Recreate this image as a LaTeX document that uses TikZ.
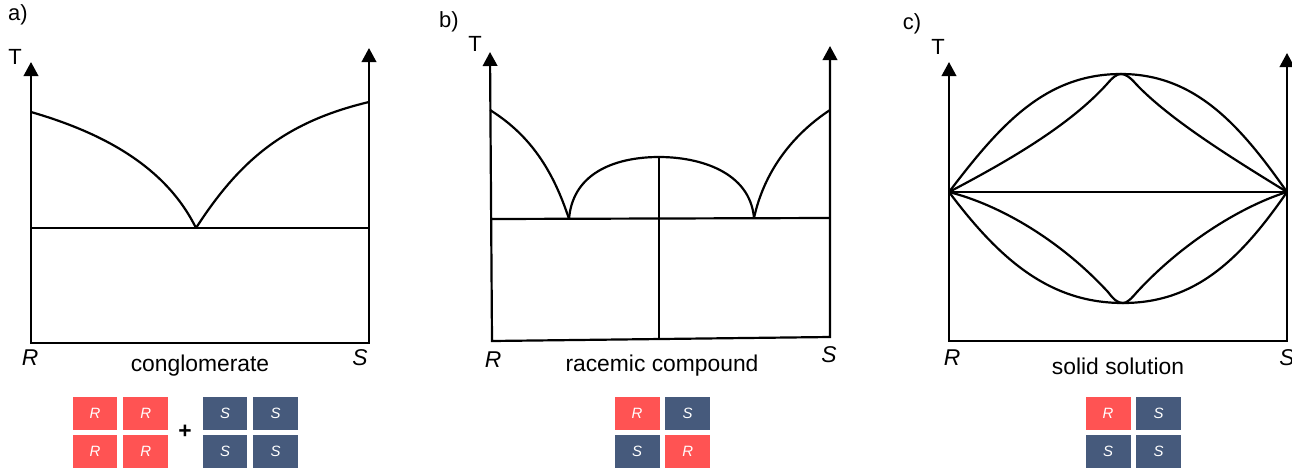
\documentclass[tikz,border=0pt]{standalone}
\usepackage{fontspec}
\setmainfont{Liberation Sans}
\usetikzlibrary{arrows.meta,positioning}
\definecolor{enred}{HTML}{FF5353}
\definecolor{enblue}{HTML}{465A7C}
\tikzset{
  pdframe/.style={
    line width=1.25pt, draw=black, line join=miter,
    {Triangle[width=0.29cm,length=0.28cm]}-{Triangle[width=0.29cm,length=0.28cm]}
  },
  pdline/.style={line width=1.25pt, draw=black},
  enbox/.style={
    rectangle, minimum width=0.9cm, minimum height=0.66cm, inner sep=0pt,
    text=white, font=\fontsize{8.5}{9}\selectfont\itshape
  },
  rbox/.style={enbox, fill=enred},
  sbox/.style={enbox, fill=enblue},
  pdtag/.style={font=\fontsize{12.5}{14}\selectfont, inner sep=0pt},
  pdaxis/.style={font=\fontsize{13}{14}\selectfont\itshape, inner sep=0pt},
  pdname/.style={font=\fontsize{13}{14}\selectfont, inner sep=0pt},
}

\begin{document}
\begin{tikzpicture}[x=0.02cm, y=-0.02cm, node distance=0.1cm and 0.1cm]
  \useasboundingbox (0,0) rectangle (1292,467);

  % a) conglomerate
  \node (atag) [pdtag] at (18,15) {a)};
  \node (aT) [pdtag] at (15,57) {T};
  \coordinate (aTL) at (31,62);  \coordinate (aBL) at (31,343);
  \coordinate (aBR) at (369,343); \coordinate (aTR) at (369,48);
  \coordinate (aL) at (31,112);  \coordinate (aR) at (369,102);
  \coordinate (aE) at (196,228);
  \draw[pdframe] (aTL) -- (aBL) -- (aBR) -- (aTR);
  \draw[pdline] (31,228) -- (369,228);
  \draw[pdline] (aL) .. controls (100,132) and (165,165) .. (aE);
  \draw[pdline] (aE) .. controls (240,160) and (285,122) .. (aR);
  \node (aRl) [pdaxis] at (30,358) {R};
  \node (aSl) [pdaxis] at (360,358) {S};
  \node (aname) [pdname] at (200,366) {conglomerate};
  \node (ra1) [rbox] at (95,413) {R};
  \node (ra2) [rbox, right=of ra1] {R};
  \node (ra3) [rbox, below=of ra1] {R};
  \node (ra4) [rbox, below=of ra2] {R};
  \node (plus) [font=\fontsize{13}{14}\selectfont\bfseries] at (185,432) {+};
  \node (sa1) [sbox] at (225,413) {S};
  \node (sa2) [sbox, right=of sa1] {S};
  \node (sa3) [sbox, below=of sa1] {S};
  \node (sa4) [sbox, below=of sa2] {S};

  % b) racemic compound
  \node (btag) [pdtag] at (449,22) {b)};
  \node (bT) [pdtag] at (475,44) {T};
  \coordinate (bTL) at (490,52);  \coordinate (bBL) at (492,341);
  \coordinate (bBR) at (830,337); \coordinate (bTR) at (830,46);
  \coordinate (bL) at (490,110);  \coordinate (bR) at (830,110);
  \coordinate (bE1) at (569,219); \coordinate (bE2) at (754,218);
  \coordinate (bM) at (659,157);
  \draw[pdframe] (bTL) -- (bBL) -- (bBR) -- (bTR);
  \draw[pdline] (491,219) -- (830,218);
  \draw[pdline] (bM) -- (659,339);
  \draw[pdline] (bL) .. controls (530,135) and (553,170) .. (bE1);
  \draw[pdline] (bE1) .. controls (573,170) and (620,157) .. (bM)
                      .. controls (700,157) and (750,172) .. (bE2);
  \draw[pdline] (bE2) .. controls (764,172) and (792,135) .. (bR);
  \node (bRl) [pdaxis] at (493,360) {R};
  \node (bSl) [pdaxis] at (829,355) {S};
  \node (bname) [pdname] at (662,366) {racemic compound};
  \node (rb1) [rbox] at (637,413) {R};
  \node (sb1) [sbox, right=of rb1] {S};
  \node (sb2) [sbox, below=of rb1] {S};
  \node (rb2) [rbox, below=of sb1] {R};

  % c) solid solution
  \node (ctag) [pdtag] at (912,24) {c)};
  \node (cT) [pdtag] at (938,47) {T};
  \coordinate (cTL) at (949,62);   \coordinate (cBL) at (949,341);
  \coordinate (cBR) at (1287,341); \coordinate (cTR) at (1287,53);
  \coordinate (cL) at (949,192);   \coordinate (cR) at (1287,192);
  \coordinate (cA) at (1121,74);   \coordinate (cB) at (1123,303);
  \draw[pdframe] (cTL) -- (cBL) -- (cBR) -- (cTR);
  \draw[pdline] (cL) -- (cR);
  \draw[pdline] (cL) .. controls (1000,125) and (1045,74) .. (cA)
                     .. controls (1195,74) and (1240,125) .. (cR);
  \draw[pdline] (cL) .. controls (1010,160) and (1070,125) .. (1107,84)
                     .. controls (1113,77) and (1117,74) .. (cA)
                     .. controls (1125,74) and (1130,77) .. (1136,84)
                     .. controls (1170,120) and (1235,160) .. (cR);
  \draw[pdline] (cL) .. controls (1000,260) and (1050,303) .. (cB)
                     .. controls (1195,303) and (1240,260) .. (cR);
  \draw[pdline] (cL) .. controls (1000,205) and (1060,240) .. (1108,292)
                     .. controls (1114,300) and (1118,303) .. (cB)
                     .. controls (1127,303) and (1131,299) .. (1137,292)
                     .. controls (1185,240) and (1245,205) .. (cR);
  \node (cRl) [pdaxis] at (952,358) {R};
  \node (cSl) [pdaxis] at (1287,358) {S};
  \node (cname) [pdname] at (1118,366) {solid solution};
  \node (rc1) [rbox] at (1108,413) {R};
  \node (sc1) [sbox, right=of rc1] {S};
  \node (sc2) [sbox, below=of rc1] {S};
  \node (sc3) [sbox, below=of sc1] {S};
\end{tikzpicture}
\end{document}
